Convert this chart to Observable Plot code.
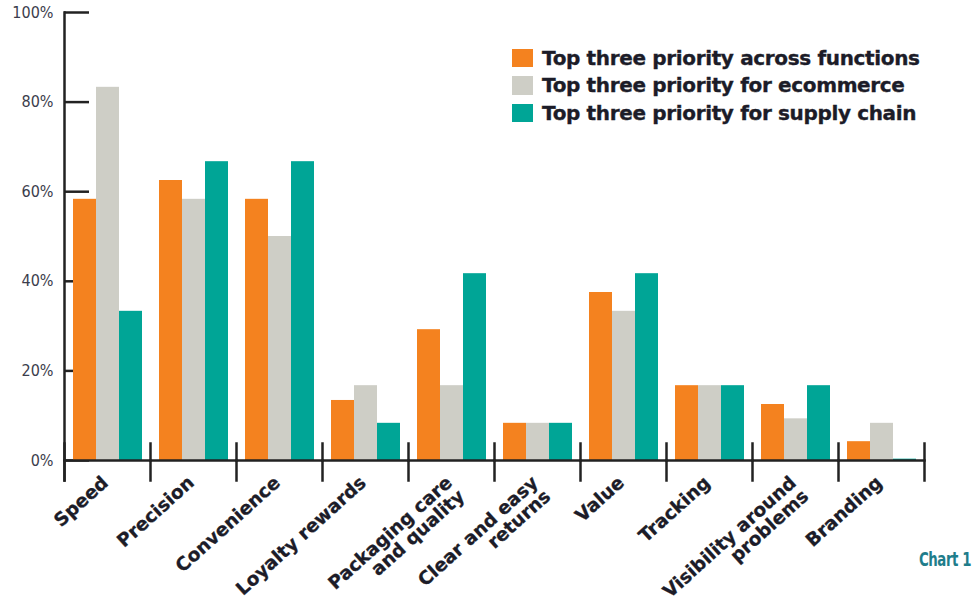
<!DOCTYPE html>
<html>
<head>
<meta charset="utf-8">
<script src="https://cdn.jsdelivr.net/npm/d3@7"></script>
<script src="https://cdn.jsdelivr.net/npm/@observablehq/plot@0.6"></script>
<style>
  html, body { margin: 0; padding: 0; background: #fff; }
  #wrap { position: relative; width: 975px; height: 604px; overflow: hidden; }
  #legend { position: absolute; left: 512px; top: 44px; font-family: "DejaVu Sans", sans-serif; font-weight: bold; font-size: 20px; letter-spacing: -0.35px; color: #1c1c28; -webkit-text-stroke: 0.35px #1c1c28; white-space: nowrap; }
  #legend .row { display: flex; align-items: center; height: 27.5px; }
  #legend .sw { width: 20.5px; height: 18.5px; margin-right: 9.5px; flex: none; }
  #caption { position: absolute; left: 919px; top: 548px; white-space: nowrap; font-family: "DejaVu Sans Condensed", "DejaVu Sans", sans-serif; font-weight: bold; font-size: 20px; letter-spacing: -0.6px; color: #1f7d8b; line-height: 23px; transform: scaleX(0.74); transform-origin: 0 0; }
</style>
</head>
<body>
<div id="wrap"></div>
<script>
const categories = ["Speed", "Precision", "Convenience", "Loyalty rewards", "Packaging care\nand quality", "Clear and easy\nreturns", "Value", "Tracking", "Visibility around\nproblems", "Branding"];
const series = ["Top three priority across functions", "Top three priority for ecommerce", "Top three priority for supply chain"];
const acrossFunctions = [58.3, 62.5, 58.3, 13.4, 29.2, 8.3, 37.5, 16.7, 12.5, 4.2];
const ecommerce = [83.3, 58.3, 50.0, 16.7, 16.7, 8.3, 33.3, 16.7, 9.3, 8.3];
const supplyChain = [33.3, 66.7, 66.7, 8.3, 41.7, 8.3, 41.7, 16.7, 16.7, 0.3];
const yTicks = [0, 20, 40, 60, 80, 100];
const colors = ["#f4821f", "#cecec6", "#00a596"];

const seriesValues = [acrossFunctions, ecommerce, supplyChain];
const data = [];
categories.forEach((c, i) => {
  series.forEach((s, j) => data.push({category: c, series: s, value: seriesValues[j][i]}));
});

const axisColor = "#222";
const plot = Plot.plot({
  width: 975,
  height: 604,
  marginLeft: 63,
  marginRight: 51,
  marginTop: 12,
  marginBottom: 144,
  fx: {domain: categories, padding: 0, axis: null},
  x: {domain: series, paddingInner: 0, paddingOuter: 0.35, align: 0.55, axis: null},
  y: {domain: [0, 100], axis: null},
  color: {domain: series, range: colors},
  style: {background: "#fff", overflow: "visible"},
  marks: [
    Plot.axisY(yTicks, {anchor: "left", tickSize: -25, tickFormat: () => "", label: null, stroke: axisColor, strokeWidth: 2.5}),
    Plot.barY(data, {fx: "category", x: "series", y: "value", fill: "series"}),
    Plot.axisY(yTicks, {anchor: "left", tickSize: 0, tickPadding: 11, tickFormat: d => d + "%", label: null,
      fontFamily: "'DejaVu Sans Condensed', 'DejaVu Sans', sans-serif", fontSize: 16, fill: "#3b3d4c", letterSpacing: "-0.4px"}),
    Plot.frame({anchor: "bottom", stroke: axisColor, strokeWidth: 2.5}),
    Plot.frame({anchor: "left", facetAnchor: "left", insetBottom: -20, stroke: axisColor, strokeWidth: 2.5}),
    Plot.frame({anchor: "left", insetTop: 431, insetBottom: -20, stroke: axisColor, strokeWidth: 2.5}),
    Plot.frame({anchor: "right", facetAnchor: "right", insetTop: 431, insetBottom: -20, stroke: axisColor, strokeWidth: 2.5}),
    Plot.text(categories, {fx: d => d, text: d => d, frameAnchor: "bottom", textAnchor: "end", lineAnchor: "top",
      rotate: -42, dx: -7, dy: 14, fontFamily: "'DejaVu Sans', sans-serif", fontWeight: "bold", fontSize: 18.5,
      fill: "#1c1c28", stroke: "#1c1c28", strokeWidth: 0.3, lineHeight: 1.0})
  ]
});

const wrap = document.getElementById("wrap");
wrap.appendChild(plot);

const legend = document.createElement("div");
legend.id = "legend";
series.forEach((s, i) => {
  const row = document.createElement("div");
  row.className = "row";
  const sw = document.createElement("span");
  sw.className = "sw";
  sw.style.background = colors[i];
  const t = document.createElement("span");
  t.textContent = s;
  row.appendChild(sw);
  row.appendChild(t);
  legend.appendChild(row);
});
wrap.appendChild(legend);

const cap = document.createElement("div");
cap.id = "caption";
cap.textContent = "Chart 1";
wrap.appendChild(cap);
</script>
</body>
</html>
